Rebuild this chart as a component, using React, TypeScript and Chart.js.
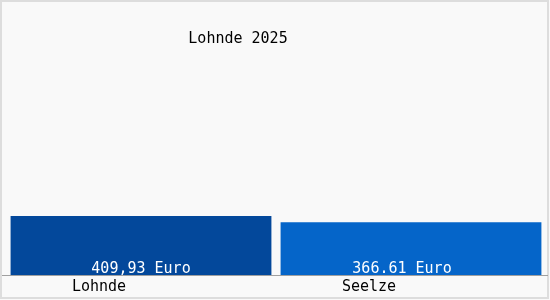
import React, { useEffect, useRef } from "react";
import { Chart, registerables } from "chart.js";

Chart.register(...registerables);

const TITLE = "Lohnde 2025";
const categories = ["Lohnde", "Seelze"];
const values = [409.93, 366.61];
const valueLabels = ["409,93 Euro", "366.61 Euro"];
const barColors = ["#03489b", "#0565c9"];
const FONT = "'DejaVu Sans Mono', monospace";

export default function App() {
  const ref = useRef<HTMLCanvasElement | null>(null);

  useEffect(() => {
    if (!ref.current) return;
    const frame = {
      id: "frame",
      beforeDraw(chart: any) {
        const { ctx, width, height } = chart;
        ctx.save();
        ctx.fillStyle = "#f9f9f9";
        ctx.fillRect(0, 0, width, height);
        ctx.strokeStyle = "#dddddd";
        ctx.lineWidth = 2;
        ctx.strokeRect(1, 1, width - 3, height - 3);
        ctx.font = `15px ${FONT}`;
        ctx.fillStyle = "#000";
        ctx.textAlign = "center";
        ctx.textBaseline = "middle";
        ctx.fillText(TITLE, 238, 39);
        ctx.restore();
      },
      afterDatasetsDraw(chart: any) {
        const { ctx, width } = chart;
        const meta = chart.getDatasetMeta(0);
        ctx.save();
        ctx.font = `15px ${FONT}`;
        ctx.fillStyle = "#ffffff";
        ctx.textAlign = "center";
        ctx.textBaseline = "alphabetic";
        meta.data.forEach((bar: any, i: number) => {
          ctx.fillText(valueLabels[i], bar.x - (i === 1 ? 9 : 0), bar.base - 2);
        });
        const y = Math.round(chart.scales.y.bottom) + 0.5;
        ctx.strokeStyle = "#a0a0a0";
        ctx.lineWidth = 1;
        ctx.beginPath();
        ctx.moveTo(2, y);
        ctx.lineTo(width - 2, y);
        ctx.stroke();
        ctx.restore();
      },
    };
    const chart = new Chart(ref.current, {
      type: "bar",
      data: {
        labels: categories,
        datasets: [
          {
            data: values,
            backgroundColor: barColors,
            borderWidth: 0,
            barPercentage: 0.966,
            categoryPercentage: 1,
          },
        ],
      },
      options: {
        animation: false,
        responsive: false,
        layout: { padding: { left: 6, right: 4, top: 16, bottom: 1 } },
        plugins: {
          legend: { display: false },
          title: { display: false },
          tooltip: { enabled: false },
        },
        scales: {
          x: {
            grid: { display: false, drawTicks: false },
            border: { display: false },
            ticks: {
              color: "#000",
              font: { family: FONT, size: 15 },
              padding: 3,
              labelOffset: -42,
              maxRotation: 0,
            },
          },
          y: {
            display: false,
            min: 0,
            max: 1800,
          },
        },
      },
      plugins: [frame],
    });
    return () => chart.destroy();
  }, []);

  return (
    <div style={{ position: "fixed", left: 0, top: 0, width: 550, height: 300 }}>
      <canvas ref={ref} width={550} height={300} />
    </div>
  );
}
